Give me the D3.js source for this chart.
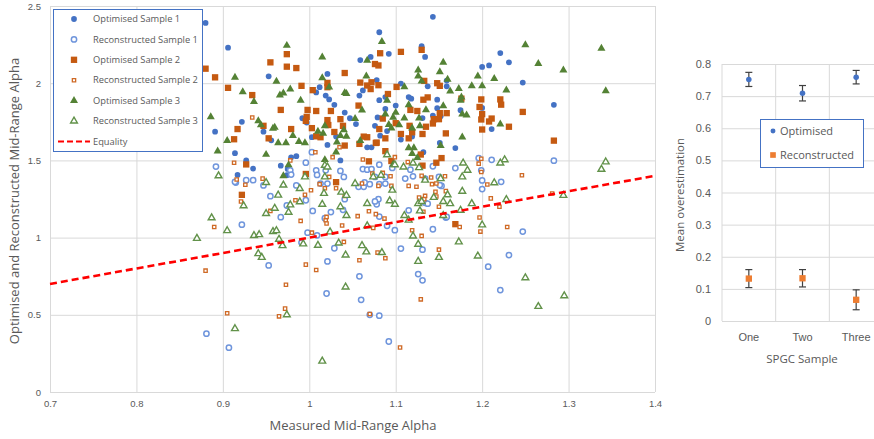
<!DOCTYPE html>
<html>
<head>
<meta charset="utf-8">
<script src="https://cdn.jsdelivr.net/npm/d3@7"></script>
<style>
  body { margin: 0; background: #fff; }
  svg { display: block; font-family: "Open Sans", sans-serif; }
  .tick text { fill: #595959; }
</style>
</head>
<body>
<svg id="graphic" width="874" height="439"></svg>
<script>
// ---- scatter data: [measured alpha, estimated alpha] ----
const optimised1 = [[0.880,2.39],[0.906,2.23],[0.953,2.045],[1.021,2.06],[1.012,1.974],[1.008,1.94],[1.019,1.92],[1.023,1.895],[1.029,1.86],[0.922,1.75],[0.891,1.686],[0.947,1.686],[0.956,1.63],[0.914,1.547],[0.927,1.50],[0.935,1.447],[0.967,1.466],[0.979,1.52],[0.985,1.527],[0.992,1.773],[0.997,1.745],[1.003,1.65],[1.021,1.60],[1.031,1.654],[1.041,1.81],[1.047,1.773],[1.054,1.735],[1.036,1.50],[1.059,2.15],[1.071,2.17],[1.081,2.33],[1.058,1.92],[1.062,1.953],[1.067,1.585],[1.072,1.585],[1.076,1.724],[0.917,1.406],[0.975,1.445],[0.974,1.404],[1.143,2.43],[1.092,2.19],[1.134,2.17],[1.130,2.24],[1.078,2.02],[1.106,1.998],[1.137,1.98],[1.159,2.017],[1.159,1.98],[1.200,2.105],[1.208,2.115],[1.221,2.195],[1.231,2.135],[1.247,2.004],[1.283,1.86],[1.081,1.89],[1.088,1.91],[1.115,1.91],[1.118,1.90],[1.148,1.893],[1.148,1.838],[1.100,1.855],[1.088,1.833],[1.079,1.778],[1.090,1.69],[1.082,1.66],[1.106,1.635],[1.119,1.654],[1.131,1.774],[1.152,1.786],[1.143,1.79],[1.175,1.825],[1.200,1.84],[1.211,1.703],[1.151,1.613],[1.169,1.58],[1.132,1.553]];

const reconstructed1 = [[0.892,1.46],[0.881,0.378],[0.907,0.287],[1.283,1.498],[1.211,1.504],[1.196,1.515],[1.199,1.436],[1.200,1.37],[1.222,1.361],[1.200,1.314],[1.169,1.45],[1.247,1.039],[1.231,0.887],[1.207,0.812],[1.221,0.66],[1.158,1.13],[1.153,1.335],[1.081,1.136],[1.090,1.076],[1.099,1.048],[1.143,1.054],[1.159,1.134],[1.106,0.929],[1.131,0.922],[1.126,0.764],[1.131,0.723],[1.081,0.494],[1.092,0.327],[1.115,1.177],[1.134,1.225],[1.137,1.22],[1.151,1.34],[1.080,1.249],[1.078,1.216],[1.081,1.346],[1.088,1.35],[0.922,1.084],[0.953,0.82],[0.967,1.132],[0.974,1.208],[0.985,1.338],[0.996,1.242],[1.004,1.173],[0.998,1.032],[1.009,1.015],[0.991,0.968],[1.018,1.126],[1.025,1.165],[1.039,1.18],[1.041,1.249],[1.029,0.931],[1.021,0.846],[1.058,0.749],[1.020,0.638],[1.060,0.597],[1.070,0.50],[0.955,1.268],[0.947,1.338],[0.915,1.357],[1.013,1.35],[1.021,1.35],[1.057,1.329],[1.063,1.329],[1.070,1.346],[1.076,1.234],[0.996,1.485],[1.003,1.553],[1.008,1.436],[1.009,1.406],[0.978,1.436],[0.979,1.408],[0.935,1.372],[0.927,1.372],[0.914,1.361],[1.019,1.436],[1.036,1.432],[1.040,1.393],[1.062,1.444],[1.067,1.44],[1.072,1.444],[1.076,1.393],[1.064,1.357],[1.081,1.472],[1.096,1.451],[1.117,1.44],[1.143,1.462],[1.134,1.382],[1.120,1.397],[1.111,1.382],[1.088,1.393],[1.150,1.393]];

const optimised2 = [[0.880,2.094],[0.891,2.038],[0.906,1.97],[0.955,2.135],[0.974,2.188],[0.974,2.107],[0.985,2.098],[0.934,1.923],[0.967,1.827],[0.917,1.703],[0.913,1.637],[0.953,1.643],[0.947,1.724],[0.979,1.703],[0.991,1.983],[0.998,1.827],[0.997,1.782],[0.996,1.756],[1.003,1.709],[1.004,1.955],[1.008,1.82],[1.021,2.002],[1.021,1.974],[1.025,1.82],[1.021,1.761],[1.022,1.729],[1.029,1.684],[1.036,1.767],[1.039,1.724],[1.041,2.066],[1.059,2.004],[1.067,1.985],[1.071,1.962],[1.072,2.006],[1.076,2.124],[1.082,2.194],[1.057,1.855],[1.063,1.654],[1.067,1.65],[1.058,1.607],[1.041,1.596],[1.008,1.656],[1.013,1.65],[0.927,1.474],[0.996,1.412],[1.031,1.359],[1.069,1.494],[1.077,1.613],[1.106,2.203],[1.130,2.216],[1.080,2.115],[1.080,1.987],[1.101,1.976],[1.133,2.015],[1.148,2.0],[1.151,1.983],[1.091,1.93],[1.132,1.893],[1.137,1.908],[1.125,1.82],[1.117,1.827],[1.151,1.806],[1.159,1.806],[1.085,1.771],[1.100,1.741],[1.081,1.703],[1.116,1.724],[1.135,1.718],[1.144,1.767],[1.150,1.767],[1.143,1.739],[1.119,1.682],[1.158,1.675],[1.131,1.671],[1.106,1.671],[1.115,1.643],[1.088,1.643],[1.078,1.615],[1.088,1.56],[1.129,1.538],[1.153,1.515],[1.147,1.485],[1.131,1.466],[1.095,1.496],[1.221,1.895],[1.222,1.861],[1.247,1.814],[1.231,1.718],[1.283,1.628],[1.199,1.895],[1.197,1.846],[1.200,1.80],[1.199,1.765],[1.211,1.771],[1.208,1.752],[1.200,1.70],[1.176,1.9],[0.922,1.277],[1.169,1.087]];

const reconstructed2 = [[0.913,1.485],[0.905,0.51],[0.972,0.54],[0.965,0.49],[0.880,0.786],[1.246,1.404],[1.206,1.344],[1.196,1.479],[1.199,1.511],[1.199,1.425],[1.158,1.301],[1.281,1.286],[1.210,1.254],[1.220,1.20],[1.197,1.13],[1.198,1.039],[1.229,1.069],[1.174,1.069],[1.119,1.048],[1.130,1.011],[1.150,0.922],[1.088,0.866],[1.079,0.903],[1.129,0.60],[1.105,0.288],[1.087,1.123],[1.132,1.167],[1.150,1.20],[1.134,1.27],[1.147,1.266],[1.146,1.297],[1.133,1.249],[1.127,1.26],[1.115,1.335],[1.124,1.329],[1.095,1.335],[1.080,1.335],[1.142,1.346],[0.890,1.069],[0.973,0.695],[0.996,0.825],[1.008,0.79],[0.990,1.108],[1.003,1.032],[1.040,0.972],[1.058,0.853],[1.074,1.063],[1.056,1.139],[1.038,1.078],[1.019,1.113],[1.020,1.091],[1.020,1.134],[0.995,1.277],[0.984,1.242],[0.955,1.173],[0.921,1.234],[0.926,1.342],[1.002,1.307],[1.012,1.346],[1.018,1.32],[1.031,1.32],[1.041,1.27],[1.069,1.171],[1.077,1.152],[1.070,0.505],[0.934,1.778],[0.978,1.50],[1.007,1.553],[1.027,1.521],[1.035,1.585],[1.062,1.506],[1.023,1.393],[1.061,1.35],[0.946,1.382],[0.916,1.376],[1.073,1.415],[1.099,1.521],[1.114,1.489],[1.130,1.40],[1.141,1.389],[1.157,1.397],[1.085,1.419],[1.094,1.397],[1.147,1.35]];

const optimised3 = [[0.974,2.244],[1.015,2.169],[0.914,2.038],[0.962,2.011],[0.923,1.944],[0.966,1.923],[0.970,1.936],[0.978,1.962],[0.936,1.88],[0.990,1.889],[1.015,2.034],[1.023,1.974],[1.041,1.938],[1.043,1.932],[1.067,2.147],[1.066,2.045],[1.061,1.825],[0.886,1.782],[0.941,1.756],[0.944,1.729],[0.958,1.707],[0.960,1.714],[0.905,1.628],[0.894,1.56],[0.950,1.538],[0.964,1.613],[0.973,1.613],[0.981,1.66],[0.988,1.622],[0.995,1.613],[1.010,1.688],[1.016,1.675],[1.018,1.724],[1.032,1.618],[1.036,1.66],[1.043,1.656],[1.053,1.771],[1.059,1.628],[1.018,1.504],[1.031,1.553],[0.976,1.47],[0.970,1.40],[1.040,1.697],[1.084,2.269],[1.250,2.248],[1.155,2.135],[1.126,2.085],[1.151,2.073],[1.126,2.045],[1.130,2.013],[1.160,2.024],[1.195,2.045],[1.214,2.03],[1.265,2.126],[1.294,2.085],[1.338,2.226],[1.343,1.95],[1.228,1.955],[1.221,1.735],[1.177,1.65],[1.110,1.976],[1.163,1.949],[1.173,1.964],[1.188,1.983],[1.200,1.983],[1.176,1.91],[1.175,1.889],[1.090,1.889],[1.115,1.859],[1.135,1.827],[1.155,1.853],[1.088,1.799],[1.097,1.778],[1.100,1.81],[1.110,1.774],[1.127,1.774],[1.177,1.799],[1.182,1.793],[1.092,1.731],[1.104,1.729],[1.095,1.709],[1.119,1.709],[1.128,1.724],[1.152,1.596],[1.115,1.581],[1.121,1.581],[1.119,1.543],[1.125,1.517],[1.097,1.474]];

const reconstructed3 = [[0.895,1.40],[0.914,0.41],[0.974,0.50],[0.870,0.995],[1.343,1.49],[1.338,1.442],[1.226,1.504],[1.221,1.483],[1.178,1.483],[1.183,1.436],[1.177,1.393],[1.214,1.355],[1.177,1.30],[1.294,1.273],[1.228,1.247],[1.200,1.082],[1.173,0.972],[1.195,0.881],[1.250,0.74],[1.295,0.623],[1.265,0.554],[1.188,1.22],[1.175,1.177],[1.155,1.234],[1.163,1.22],[1.155,1.143],[1.160,1.277],[1.084,0.903],[1.126,0.957],[1.126,0.846],[1.150,0.872],[1.120,1.01],[1.115,1.113],[1.110,1.143],[1.128,1.173],[1.144,1.26],[1.126,1.22],[1.130,1.234],[1.096,1.307],[1.099,1.216],[1.093,1.238],[0.887,1.128],[0.905,1.045],[0.924,1.206],[0.936,1.013],[0.942,1.019],[0.941,0.896],[0.945,0.872],[0.950,1.156],[0.958,1.039],[0.962,1.045],[0.960,1.19],[0.964,1.275],[0.976,1.164],[0.978,1.212],[0.965,0.989],[0.969,0.948],[0.989,1.232],[0.993,0.959],[1.010,0.95],[1.015,1.216],[1.024,1.037],[1.034,0.965],[1.042,0.887],[1.042,0.68],[1.036,1.20],[1.043,1.143],[1.061,0.948],[1.066,0.907],[1.067,1.076],[1.067,1.221],[1.017,1.286],[0.970,1.34],[0.989,1.318],[0.950,1.357],[1.053,1.35],[1.037,1.294],[1.043,1.273],[1.015,0.20],[1.018,1.468],[1.021,1.457],[1.018,1.393],[0.995,1.393],[1.074,1.393],[1.090,1.536],[1.120,1.483],[1.099,1.472],[1.109,1.457],[1.127,1.453],[1.134,1.372],[1.152,1.382],[1.083,1.404]];

const equality = [[0.7,0.7],[1.4,1.4]];

const xTicks = [0.7,0.8,0.9,1.0,1.1,1.2,1.3,1.4];
const yTicks = [0,0.5,1,1.5,2,2.5];

// ---- mean overestimation data ----
const samples = ["One","Two","Three"];
const optMean = [0.752,0.709,0.759];
const optErr = [0.022,0.024,0.021];
const recMean = [0.132,0.133,0.066];
const recErr = [0.028,0.027,0.031];
const meanTicks = [0,0.1,0.2,0.3,0.4,0.5,0.6,0.7,0.8];

const grid = "#d9d9d9";
const textCol = "#595959";

let svg = d3.select('#graphic');

// ================= left scatter =================
let xScale = d3.scaleLinear().domain([0.7,1.4]).range([50,655]);
let yScale = d3.scaleLinear().domain([0,2.5]).range([392,6]);

let left = svg.append('g');

left.append('g')
    .attr('transform', 'translate(0,392)')
    .call(d3.axisBottom(xScale).tickValues(xTicks).tickSize(-386).tickFormat(d3.format('')))
    .call(g => g.select('.domain').remove())
    .call(g => g.selectAll('line').attr('stroke', grid))
    .call(g => g.selectAll('text').attr('dy', '1.3em').attr('font-size', 9.5));

left.append('g')
    .attr('transform', 'translate(50,0)')
    .call(d3.axisLeft(yScale).tickValues(yTicks).tickSize(-605).tickFormat(d3.format('')))
    .call(g => g.select('.domain').remove())
    .call(g => g.selectAll('line').attr('stroke', grid))
    .call(g => g.selectAll('text').attr('x', -9).attr('font-size', 9.5));

const series = [
    {name: 'Optimised Sample 1', data: optimised1, type: d3.symbolCircle, size: 26, fill: '#4472C4', stroke: 'none'},
    {name: 'Reconstructed Sample 1', data: reconstructed1, type: d3.symbolCircle, size: 22, fill: '#fff', stroke: '#6F95DC', sw: 1.5},
    {name: 'Optimised Sample 2', data: optimised2, type: d3.symbolSquare, size: 40, fill: '#C55A11', stroke: 'none'},
    {name: 'Reconstructed Sample 2', data: reconstructed2, type: d3.symbolSquare, size: 11, fill: '#fff', stroke: '#CF6A26', sw: 1.3},
    {name: 'Optimised Sample 3', data: optimised3, type: d3.symbolTriangle, size: 28, fill: '#548235', stroke: 'none'},
    {name: 'Reconstructed Sample 3', data: reconstructed3, type: d3.symbolTriangle, size: 20, fill: '#fff', stroke: '#62924A', sw: 1.4}
];

series.forEach(s => {
    left.append('g')
        .selectAll('path')
        .data(s.data)
        .enter()
        .append('path')
        .attr('d', d3.symbol().type(s.type).size(s.size))
        .attr('transform', d => `translate(${xScale(d[0])},${yScale(d[1])})`)
        .attr('fill', s.fill)
        .attr('stroke', s.stroke)
        .attr('stroke-width', s.sw || 0);
});

left.append('path')
    .datum(equality)
    .attr('d', d3.line().x(d => xScale(d[0])).y(d => yScale(d[1])))
    .attr('stroke', '#FF0000')
    .attr('stroke-width', 2.6)
    .attr('stroke-dasharray', '7,4')
    .attr('fill', 'none');

// legend
let leg = left.append('g');
leg.append('rect')
    .attr('x', 53.5).attr('y', 9.5).attr('width', 149).attr('height', 142)
    .attr('fill', '#fff').attr('stroke', '#4472C4').attr('stroke-width', 1);

series.forEach((s, i) => {
    let y = 19 + i * 20.4;
    leg.append('path')
        .attr('d', d3.symbol().type(s.type).size(s.size))
        .attr('transform', `translate(74,${y})`)
        .attr('fill', s.fill)
        .attr('stroke', s.stroke)
        .attr('stroke-width', s.sw || 0);
    leg.append('text')
        .attr('x', 93).attr('y', y).attr('dy', '0.35em')
        .attr('font-size', 9.3).attr('fill', textCol)
        .text(s.name);
});
leg.append('line')
    .attr('x1', 58).attr('x2', 90).attr('y1', 141.5).attr('y2', 141.5)
    .attr('stroke', '#FF0000').attr('stroke-width', 2.2).attr('stroke-dasharray', '6,3');
leg.append('text')
    .attr('x', 93).attr('y', 141.5).attr('dy', '0.35em')
    .attr('font-size', 9.3).attr('fill', textCol)
    .text('Equality');

left.append('text')
    .attr('transform', 'translate(19,201) rotate(-90)')
    .attr('text-anchor', 'middle')
    .attr('font-size', 13).attr('fill', textCol)
    .text('Optimised and Reconstructed Mid-Range Alpha');

left.append('text')
    .attr('x', 353).attr('y', 430)
    .attr('text-anchor', 'middle')
    .attr('font-size', 13).attr('fill', textCol)
    .text('Measured Mid-Range Alpha');

// ================= right: mean overestimation =================
let xR = d3.scaleBand().domain(samples).range([722,883]);
let yR = d3.scaleLinear().domain([0,0.8]).range([321,64]);

let right = svg.append('g');

right.append('g')
    .attr('transform', 'translate(722,0)')
    .call(d3.axisLeft(yR).tickValues(meanTicks).tickSize(-161).tickFormat(d3.format('')))
    .call(g => g.select('.domain').remove())
    .call(g => g.selectAll('line').attr('stroke', grid))
    .call(g => g.selectAll('text').attr('x', -11).attr('font-size', 11));

// vertical band separators
right.append('g')
    .selectAll('line')
    .data(samples)
    .enter()
    .append('line')
    .attr('x1', d => xR(d)).attr('x2', d => xR(d))
    .attr('y1', yR(0.8)).attr('y2', yR(0))
    .attr('stroke', grid);

right.append('g')
    .attr('transform', 'translate(0,321)')
    .call(d3.axisBottom(xR).tickSize(0))
    .call(g => g.select('.domain').attr('stroke', grid))
    .call(g => g.selectAll('text').attr('dy', '1.5em').attr('font-size', 11));

const meanSeries = [
    {name: 'Optimised', mean: optMean, err: optErr, type: d3.symbolCircle, size: 24, fill: '#4472C4'},
    {name: 'Reconstructed', mean: recMean, err: recErr, type: d3.symbolSquare, size: 40, fill: '#ED7D31'}
];

meanSeries.forEach(s => {
    let g = right.append('g');
    let pts = samples.map((c, i) => ({c: c, m: s.mean[i], e: s.err[i]}));
    let cx = d => xR(d.c) + xR.bandwidth() / 2;
    g.selectAll('.bar').data(pts).enter().append('line')
        .attr('x1', cx).attr('x2', cx)
        .attr('y1', d => yR(d.m - d.e)).attr('y2', d => yR(d.m + d.e))
        .attr('stroke', '#404040').attr('stroke-width', 1.2);
    [-1, 1].forEach(sign => {
        g.selectAll('.cap').data(pts).enter().append('line')
            .attr('x1', d => cx(d) - 3.5).attr('x2', d => cx(d) + 3.5)
            .attr('y1', d => yR(d.m + sign * d.e)).attr('y2', d => yR(d.m + sign * d.e))
            .attr('stroke', '#404040').attr('stroke-width', 1.2);
    });
    g.selectAll('path').data(pts).enter().append('path')
        .attr('d', d3.symbol().type(s.type).size(s.size))
        .attr('transform', d => `translate(${cx(d)},${yR(d.m)})`)
        .attr('fill', s.fill);
});

let leg2 = right.append('g');
leg2.append('rect')
    .attr('x', 760.5).attr('y', 119.5).attr('width', 103).attr('height', 48)
    .attr('fill', '#fff').attr('stroke', '#4472C4');
meanSeries.forEach((s, i) => {
    let y = 131 + i * 24;
    leg2.append('path')
        .attr('d', d3.symbol().type(s.type).size(s.size * 0.8))
        .attr('transform', `translate(773,${y})`)
        .attr('fill', s.fill);
    leg2.append('text')
        .attr('x', 780).attr('y', y).attr('dy', '0.35em')
        .attr('font-size', 11).attr('fill', textCol)
        .text(s.name);
});

right.append('text')
    .attr('transform', 'translate(684,195) rotate(-90)')
    .attr('text-anchor', 'middle')
    .attr('font-size', 11.5).attr('fill', textCol)
    .text('Mean overestimation');

right.append('text')
    .attr('x', 802).attr('y', 363)
    .attr('text-anchor', 'middle')
    .attr('font-size', 11.5).attr('fill', textCol)
    .text('SPGC Sample');
</script>
</body>
</html>
